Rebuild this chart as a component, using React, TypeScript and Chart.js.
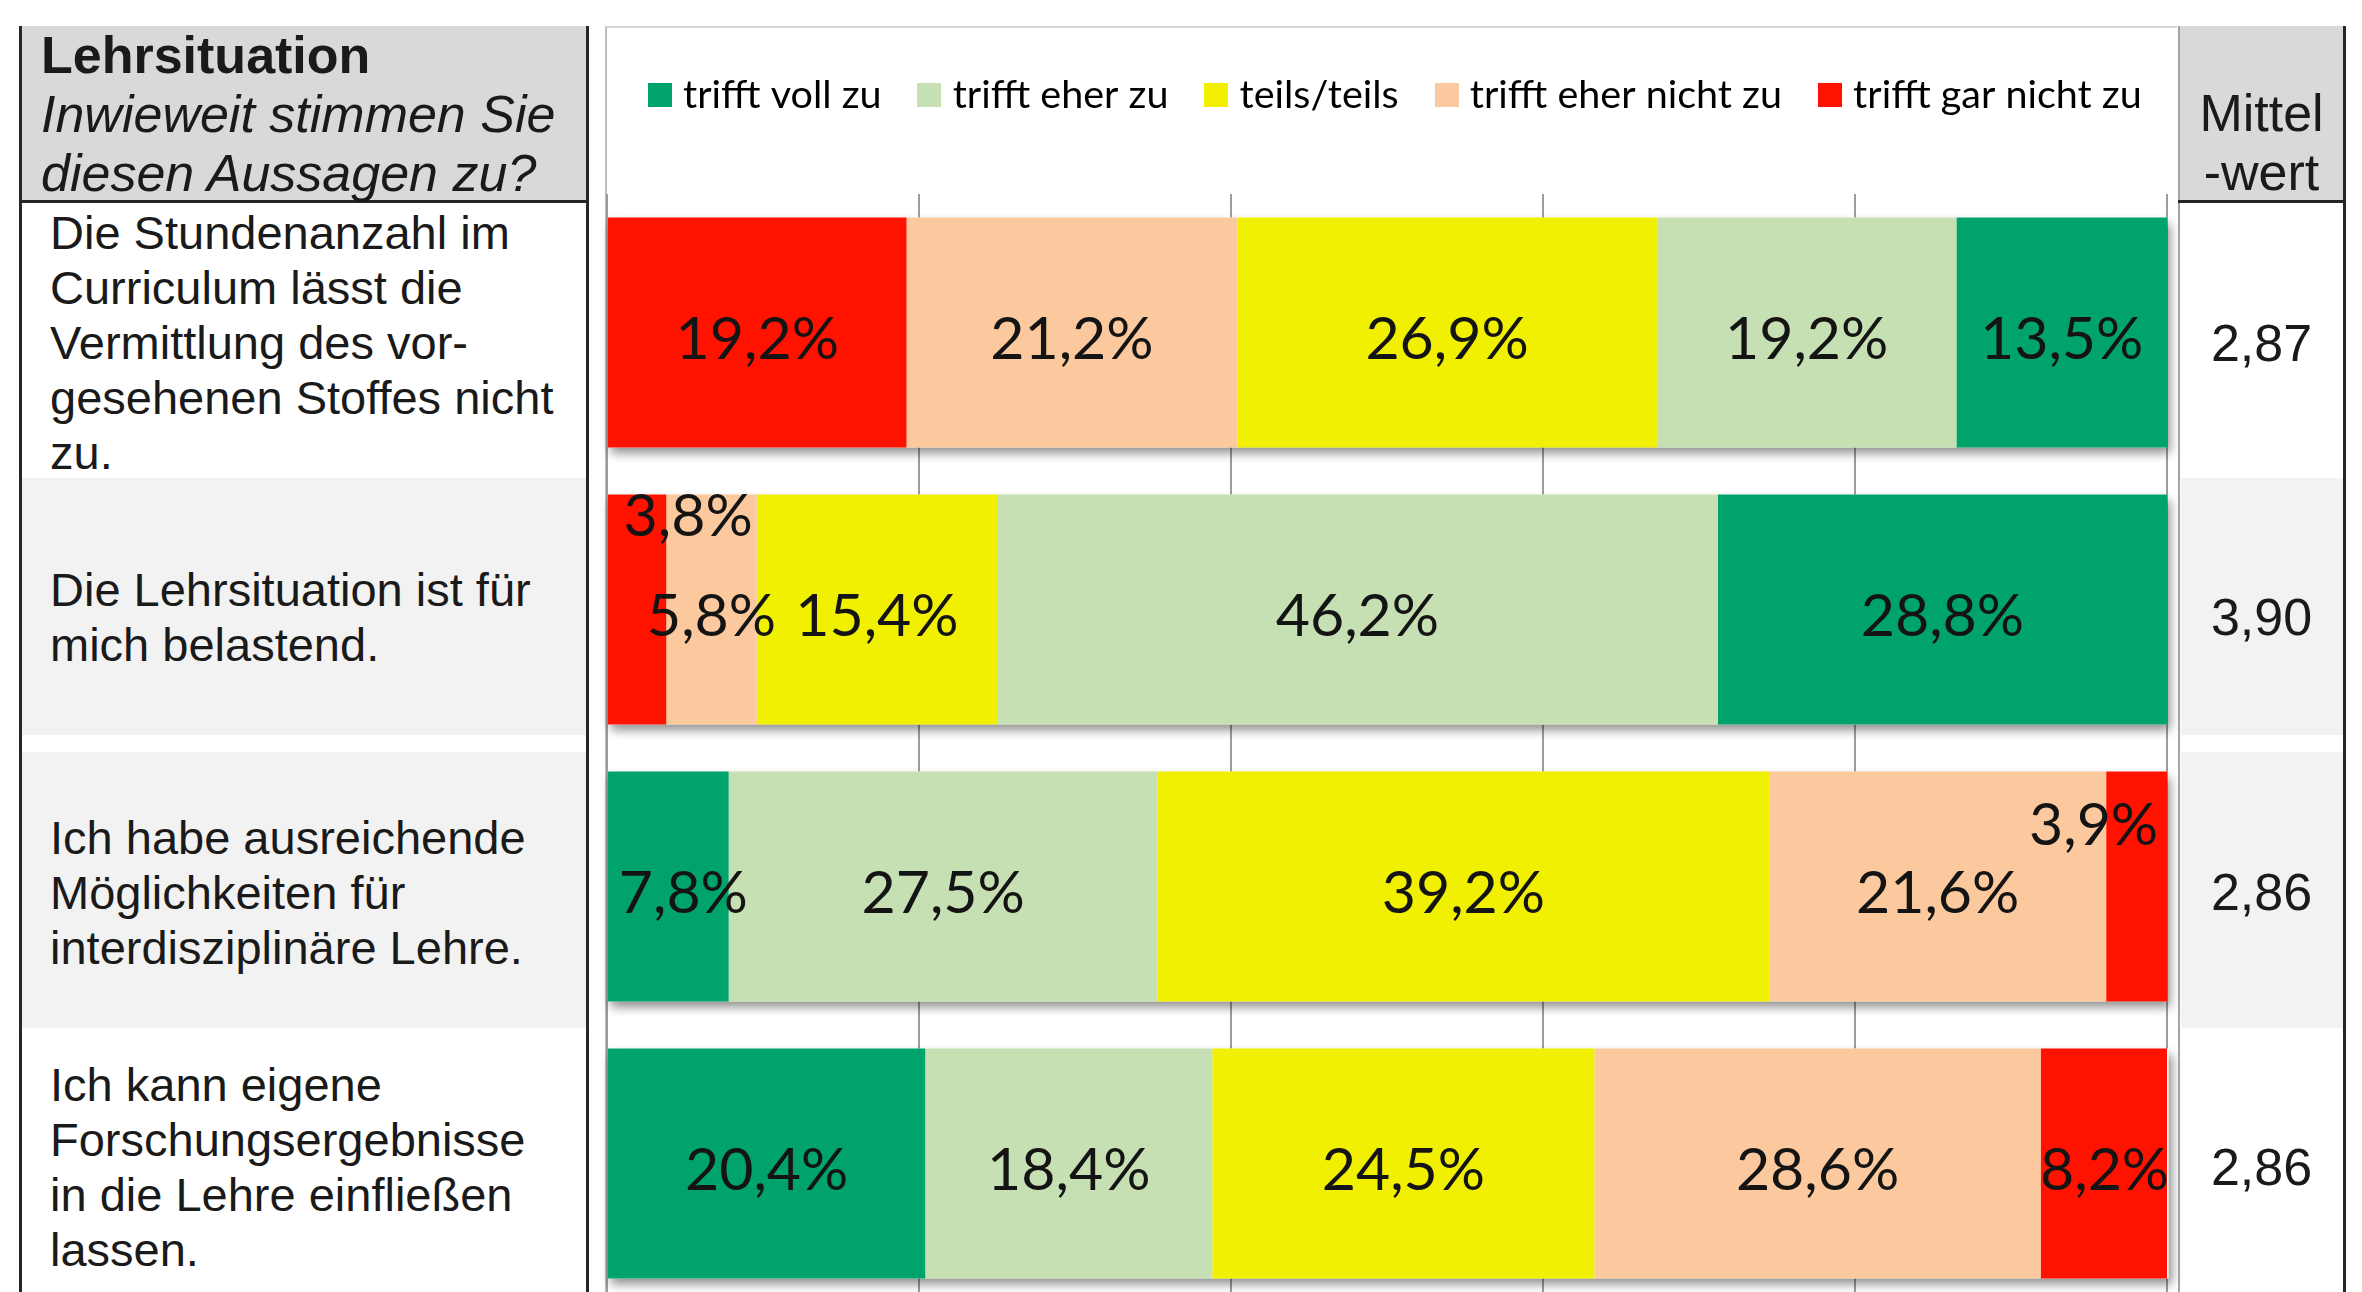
import React, { useEffect, useRef } from 'react';
import { Chart, registerables } from 'chart.js';

Chart.register(...registerables);

// ---------- data ----------
const questions = [
  'Die Stundenanzahl im\nCurriculum lässt die\nVermittlung des vor-\ngesehenen Stoffes nicht\nzu.',
  'Die Lehrsituation ist für\nmich belastend.',
  'Ich habe ausreichende\nMöglichkeiten für\ninterdisziplinäre Lehre.',
  'Ich kann eigene\nForschungsergebnisse\nin die Lehre einfließen\nlassen.',
];
const answerLabels = ['trifft voll zu', 'trifft eher zu', 'teils/teils', 'trifft eher nicht zu', 'trifft gar nicht zu'];
const trifftVollZu = [13.5, 28.8, 7.8, 20.4];
const trifftEherZu = [19.2, 46.2, 27.5, 18.4];
const teilsTeils = [26.9, 15.4, 39.2, 24.5];
const trifftEherNichtZu = [21.2, 5.8, 21.6, 28.6];
const trifftGarNichtZu = [19.2, 3.8, 3.9, 8.2];
const mittelwerte = [2.87, 3.9, 2.86, 2.86];
// rows whose bar starts with "trifft gar nicht zu" on the left
const startsNegative = [true, true, false, false];
const axisTicks = [0, 20, 40, 60, 80, 100];
const headerTitle = 'Lehrsituation';
const headerQuestion = 'Inwieweit stimmen Sie\ndiesen Aussagen zu?';
const meanHeader = 'Mittel\n-wert';

// ---------- styles ----------
const answerColors = ['#00A36A', '#C6E0B4', '#F0F000', '#FCC99E', '#FF1200'];
// label nudges in px, key "row-answerIndex"
const labelNudges: Record<string, [number, number]> = {
  '1-4': [51, -100],
  '2-4': [-43, -68],
  '2-0': [15, 0],
};
const rowBands: [number, number][] = [
  [203, 478],
  [478, 752],
  [752, 1028],
  [1028, 1302],
];
const grayBands: [number, number][] = [
  [478, 735],
  [752, 1028],
];

const series = [trifftVollZu, trifftEherZu, teilsTeils, trifftEherNichtZu, trifftGarNichtZu];

const fmt = (v: number, d: number) => v.toFixed(d).replace('.', ',');

const LEGEND_FONT = 39.5;
const LEGEND_BOX = 24;
const LEGEND_PSW = 7; // reserved width so the text sits close to the square
const LEGEND_PAD = 44.4;
const LAYOUT_TOP = 4;

function makeSquare(color: string) {
  const c = document.createElement('canvas');
  c.width = LEGEND_BOX;
  c.height = LEGEND_BOX;
  const g = c.getContext('2d')!;
  g.fillStyle = color;
  g.fillRect(0, 0, LEGEND_BOX, LEGEND_BOX);
  return c;
}

const barShadow = {
  id: 'barShadow',
  beforeDatasetsDraw(chart: any) {
    const ctx = chart.ctx;
    ctx.save();
    ctx.shadowColor = 'rgba(0,0,0,0.45)';
    ctx.shadowBlur = 10;
    ctx.shadowOffsetX = 3;
    ctx.shadowOffsetY = 6;
    ctx.fillStyle = '#ffffff';
    const n = chart.data.labels.length;
    for (let i = 0; i < n; i++) {
      let minX = Infinity, maxX = -Infinity, top = 0, bottom = 0, found = false;
      chart.data.datasets.forEach((ds: any, di: number) => {
        if (ds.data[i] == null) return;
        const el: any = chart.getDatasetMeta(di).data[i];
        if (!el) return;
        minX = Math.min(minX, el.x, el.base);
        maxX = Math.max(maxX, el.x, el.base);
        top = el.y - el.height / 2;
        bottom = el.y + el.height / 2;
        found = true;
      });
      if (found) ctx.fillRect(minX, top, maxX - minX, bottom - top);
    }
    ctx.restore();
  },
};

const barLabels = {
  id: 'barLabels',
  afterDatasetsDraw(chart: any) {
    const ctx = chart.ctx;
    ctx.save();
    ctx.font = '59px Lato';
    ctx.fillStyle = '#141414';
    ctx.textAlign = 'center';
    ctx.textBaseline = 'alphabetic';
    chart.data.datasets.forEach((ds: any, di: number) => {
      const meta = chart.getDatasetMeta(di);
      meta.data.forEach((el: any, i: number) => {
        const v = ds.data[i];
        if (v == null) return;
        const nudge = labelNudges[`${i}-${ds.answerIndex}`] || [0, 0];
        const x = (el.x + el.base) / 2 + nudge[0];
        const y = el.y + 26 + nudge[1];
        ctx.fillText(fmt(v, 1) + '%', x, y);
      });
    });
    ctx.restore();
  },
};

const legendSpacer = {
  id: 'legendSpacer',
  beforeLayout(chart: any) {
    const lg: any = chart.legend;
    if (lg && !lg._spacerPatched) {
      const orig = lg.fit.bind(lg);
      lg.fit = function () {
        this.maxWidth = Math.max(this.maxWidth || 0, 1800);
        orig();
        this.height = 167 - LAYOUT_TOP;
      };
      lg._spacerPatched = true;
    }
  },
  afterLayout(chart: any) {
    const lg: any = chart.legend;
    if (lg) {
      lg.left -= 7;
      lg.right += 31;
    }
  },
};

function BarChart() {
  const ref = useRef<HTMLCanvasElement | null>(null);
  useEffect(() => {
    if (!ref.current) return;
    const positiveFirst = [0, 1, 2, 3, 4].map((k) => ({
      label: answerLabels[k],
      answerIndex: k,
      data: series[k].map((v, i) => (startsNegative[i] ? null : v)),
      backgroundColor: answerColors[k],
      borderWidth: 0,
    }));
    const negativeFirst = [4, 3, 2, 1, 0].map((k) => ({
      label: answerLabels[k],
      answerIndex: k,
      data: series[k].map((v, i) => (startsNegative[i] ? v : null)),
      backgroundColor: answerColors[k],
      borderWidth: 0,
    }));
    const squares = answerColors.map(makeSquare);
    const chart = new Chart(ref.current, {
      type: 'bar',
      data: {
        labels: questions.map((q) => q.replace(/\n/g, ' ')),
        datasets: [...positiveFirst, ...negativeFirst] as any,
      },
      options: {
        indexAxis: 'y',
        responsive: false,
        animation: false,
        barPercentage: 0.83,
        categoryPercentage: 1.0,
        layout: { padding: { left: 10, right: 30, top: LAYOUT_TOP, bottom: 25 } },
        scales: {
          x: {
            stacked: true,
            min: 0,
            max: 100,
            afterBuildTicks: (s: any) => {
              s.ticks = axisTicks.map((v) => ({ value: v }));
            },
            afterFit: (s: any) => {
              s.height = 0;
            },
            ticks: { display: false },
            grid: { color: '#9c9c9c', lineWidth: 2, drawTicks: false },
            border: { display: false },
          },
          y: { stacked: true, display: false },
        },
        plugins: {
          tooltip: { enabled: false },
          legend: {
            position: 'top',
            labels: {
              usePointStyle: true,
              pointStyleWidth: LEGEND_PSW,
              boxWidth: LEGEND_BOX,
              boxHeight: LEGEND_BOX,
              padding: LEGEND_PAD,
              color: '#111111',
              font: { family: 'Lato', size: LEGEND_FONT },
              generateLabels: () =>
                answerLabels.map((t, k) => ({
                  text: t,
                  fillStyle: answerColors[k],
                  strokeStyle: answerColors[k],
                  lineWidth: 0,
                  pointStyle: squares[k],
                  hidden: false,
                  datasetIndex: k,
                })),
            },
          },
        },
      } as any,
      plugins: [legendSpacer, barShadow, barLabels],
    });
    return () => chart.destroy();
  }, []);
  return <canvas ref={ref} width={1600} height={1300} style={{ display: 'block' }} />;
}

const abs = (s: React.CSSProperties): React.CSSProperties => ({ position: 'absolute', ...s });

export default function App() {
  const textColor = '#1a1a1a';
  return (
    <div
      style={{
        position: 'fixed',
        left: 0,
        top: 0,
        width: 2362,
        height: 1292,
        overflow: 'hidden',
        background: '#ffffff',
        fontFamily: '"Liberation Sans", Arial, sans-serif',
        color: textColor,
      }}
    >
      {/* left column */}
      <div style={abs({ left: 22, top: 26, width: 564, height: 174, background: '#d9d9d9' })} />
      {grayBands.map(([a, b], i) => (
        <div key={'lg' + i} style={abs({ left: 22, top: a, width: 564, height: b - a, background: '#f2f2f2' })} />
      ))}
      <div style={abs({ left: 19, top: 26, width: 3, height: 1300, background: '#262626' })} />
      <div style={abs({ left: 586, top: 26, width: 3, height: 1300, background: '#262626' })} />
      <div style={abs({ left: 19, top: 200, width: 570, height: 3, background: '#262626' })} />
      <div style={abs({ left: 41, top: 26, width: 545, fontSize: 52, lineHeight: '59px', whiteSpace: 'pre-line' })}>
        <div style={{ fontWeight: 'bold' }}>{headerTitle}</div>
        <div style={{ fontStyle: 'italic' }}>{headerQuestion}</div>
      </div>
      {questions.map((q, i) => (
        <div
          key={'q' + i}
          style={abs({
            left: 50,
            top: rowBands[i][0] + 2,
            height: rowBands[i][1] - rowBands[i][0],
            width: 536,
            display: 'flex',
            alignItems: 'center',
            fontSize: 47,
            lineHeight: '55px',
            whiteSpace: 'pre-line',
          })}
        >
          <div>{q}</div>
        </div>
      ))}

      {/* chart panel */}
      <div
        style={abs({
          left: 605,
          top: 26,
          width: 1570,
          height: 1300,
          borderLeft: '2px solid #bdbdbd',
          borderTop: '2px solid #d6d6d6',
        })}
      />
      <div style={abs({ left: 597, top: 27 })}>
        <BarChart />
      </div>

      {/* right column */}
      <div style={abs({ left: 2180, top: 26, width: 163, height: 174, background: '#d9d9d9' })} />
      {grayBands.map(([a, b], i) => (
        <div key={'rg' + i} style={abs({ left: 2181, top: a, width: 162, height: b - a, background: '#f2f2f2' })} />
      ))}
      <div style={abs({ left: 2178, top: 26, width: 2, height: 1300, background: '#a3a3a3' })} />
      <div style={abs({ left: 2343, top: 26, width: 3, height: 1300, background: '#262626' })} />
      <div style={abs({ left: 2178, top: 200, width: 168, height: 3, background: '#262626' })} />
      <div
        style={abs({
          left: 2180,
          top: 84,
          width: 163,
          textAlign: 'center',
          fontSize: 52,
          lineHeight: '59px',
          whiteSpace: 'pre-line',
        })}
      >
        {meanHeader}
      </div>
      {mittelwerte.map((m, i) => (
        <div
          key={'m' + i}
          style={abs({
            left: 2180,
            width: 163,
            top: rowBands[i][0] + 2,
            height: rowBands[i][1] - rowBands[i][0],
            display: 'flex',
            alignItems: 'center',
            justifyContent: 'center',
            fontSize: 52,
          })}
        >
          {fmt(m, 2)}
        </div>
      ))}
    </div>
  );
}
